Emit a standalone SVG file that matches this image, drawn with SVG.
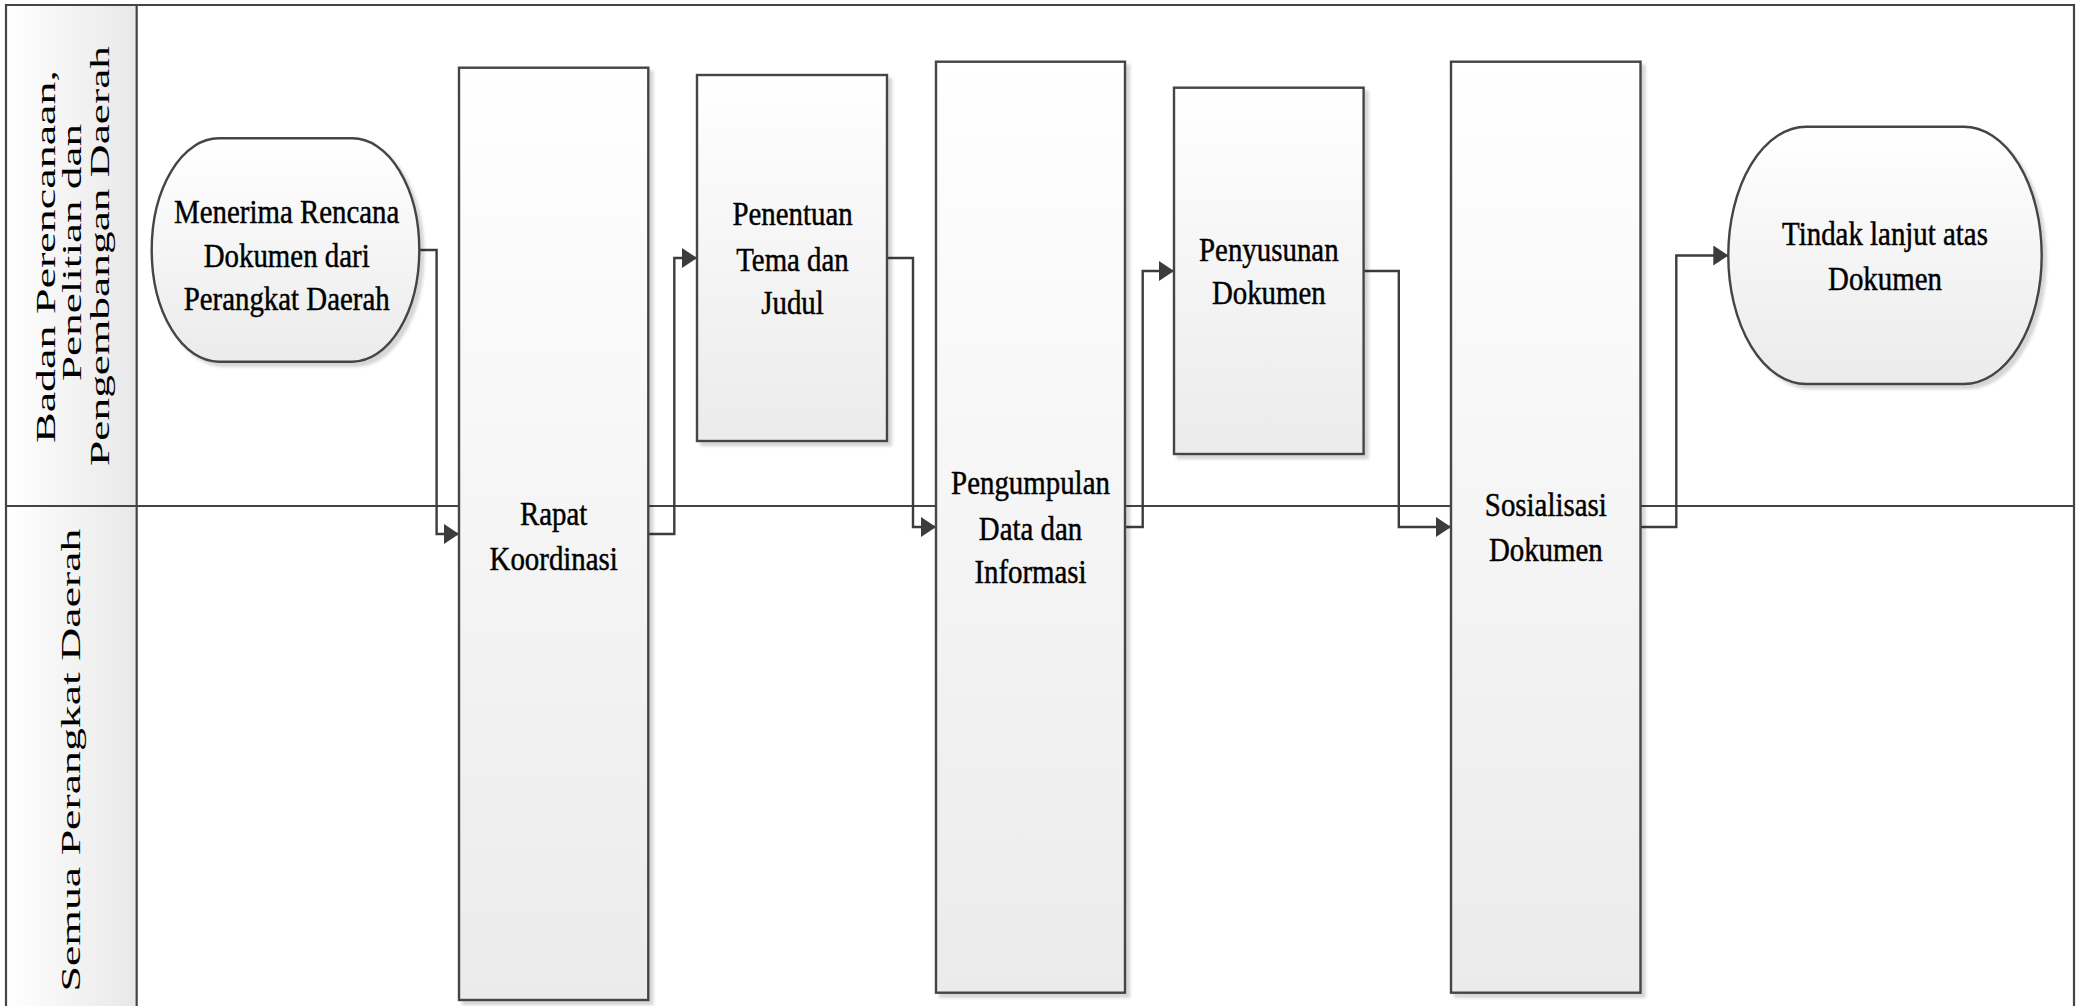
<svg xmlns="http://www.w3.org/2000/svg" width="2082" height="1006" viewBox="0 0 2082 1006">
  <style>
    .lane-line { stroke: #444444; stroke-width: 2.2; fill: none; }
    .conn { stroke: #3c3c3c; stroke-width: 2.4; fill: none; marker-end: url(#arrow); }
    .box { fill: url(#boxGrad); stroke: #444444; stroke-width: 2.4; filter: url(#shadow); }
    .t { font-family: "Liberation Serif", "Times New Roman", serif; font-size: 33px; fill: #000; stroke: #000; stroke-width: 0.45; text-anchor: middle; }
    .lt { font-family: "Liberation Serif", "Times New Roman", serif; font-size: 28px; fill: #000; text-anchor: middle; }
  </style>
  <defs>
    <linearGradient id="boxGrad" x1="0" y1="0" x2="0" y2="1">
      <stop offset="0" stop-color="#ffffff"/>
      <stop offset="1" stop-color="#ebebeb"/>
    </linearGradient>
    <linearGradient id="headGrad" x1="0" y1="0" x2="1" y2="0">
      <stop offset="0" stop-color="#ffffff"/>
      <stop offset="1" stop-color="#e8e8e8"/>
    </linearGradient>
    <filter id="shadow" x="-10%" y="-10%" width="130%" height="130%">
      <feDropShadow dx="4" dy="4" stdDeviation="1.5" flood-color="#000" flood-opacity="0.16"/>
    </filter>
    <marker id="arrow" viewBox="0 0 15 20" refX="15" refY="10" markerWidth="15" markerHeight="20" markerUnits="userSpaceOnUse" orient="auto">
      <path d="M0,0 L15,10 L0,20 Z" fill="#3c3c3c"/>
    </marker>
  </defs>

  <rect width="2082" height="1006" fill="#ffffff"/>

  <g id="lanes">
    <rect x="6" y="5" width="130.7" height="501" fill="url(#headGrad)"/>
    <rect x="6" y="506" width="130.7" height="500" fill="url(#headGrad)"/>
    <line class="lane-line" x1="5" y1="5" x2="2075" y2="5"/>
    <line class="lane-line" x1="6" y1="4" x2="6" y2="1006"/>
    <line class="lane-line" x1="2074" y1="4" x2="2074" y2="1006"/>
    <line class="lane-line" x1="136.7" y1="5" x2="136.7" y2="1006"/>
    <line class="lane-line" x1="6" y1="506" x2="2074" y2="506"/>
    <text class="lt" transform="translate(55 256.5) rotate(-90)" textLength="373" lengthAdjust="spacingAndGlyphs">Badan Perencanaan,</text>
    <text class="lt" transform="translate(81 252.5) rotate(-90)" textLength="257" lengthAdjust="spacingAndGlyphs">Penelitian dan</text>
    <text class="lt" transform="translate(108.5 256) rotate(-90)" textLength="420" lengthAdjust="spacingAndGlyphs">Pengembangan Daerah</text>
    <text class="lt" transform="translate(80 760) rotate(-90)" textLength="463" lengthAdjust="spacingAndGlyphs">Semua Perangkat Daerah</text>
  </g>

  <g id="connectors">
    <path class="conn" d="M419.5 250 H436.6 V534 H459"/>
    <path class="conn" d="M648.3 534 H674.3 V258 H697"/>
    <path class="conn" d="M887 258 H913 V527 H936"/>
    <path class="conn" d="M1125 527 H1142.7 V271 H1174"/>
    <path class="conn" d="M1363.6 271 H1398.8 V527 H1451"/>
    <path class="conn" d="M1640.5 527 H1676.3 V255.5 H1728.3"/>
  </g>

  <g id="node-menerima">
    <rect class="box" x="151.7" y="138.3" width="267.6" height="223.4" rx="67" ry="111.7"/>
    <text class="t" transform="translate(286.7 0) scale(0.875 1)"><tspan x="0" y="223.3">Menerima Rencana</tspan><tspan x="0" y="266.7">Dokumen dari</tspan><tspan x="0" y="310">Perangkat Daerah</tspan></text>
  </g>

  <g id="node-rapat">
    <rect class="box" x="459" y="67.7" width="189.3" height="932.3"/>
    <text class="t" transform="translate(553.7 0) scale(0.875 1)"><tspan x="0" y="525">Rapat</tspan><tspan x="0" y="570">Koordinasi</tspan></text>
  </g>

  <g id="node-penentuan">
    <rect class="box" x="697" y="75" width="190" height="366"/>
    <text class="t" transform="translate(792.5 0) scale(0.875 1)"><tspan x="0" y="225.4">Penentuan</tspan><tspan x="0" y="270.9">Tema dan</tspan><tspan x="0" y="314.4">Judul</tspan></text>
  </g>

  <g id="node-pengumpulan">
    <rect class="box" x="936" y="61.7" width="189" height="931"/>
    <text class="t" transform="translate(1030.5 0) scale(0.875 1)"><tspan x="0" y="494.5">Pengumpulan</tspan><tspan x="0" y="539.7">Data dan</tspan><tspan x="0" y="583.5">Informasi</tspan></text>
  </g>

  <g id="node-penyusunan">
    <rect class="box" x="1174" y="87.7" width="189.6" height="366.3"/>
    <text class="t" transform="translate(1268.8 0) scale(0.875 1)"><tspan x="0" y="261">Penyusunan</tspan><tspan x="0" y="304.5">Dokumen</tspan></text>
  </g>

  <g id="node-sosialisasi">
    <rect class="box" x="1451" y="61.7" width="189.5" height="931"/>
    <text class="t" transform="translate(1545.8 0) scale(0.875 1)"><tspan x="0" y="516">Sosialisasi</tspan><tspan x="0" y="561.5">Dokumen</tspan></text>
  </g>

  <g id="node-tindak">
    <rect class="box" x="1728.3" y="126.7" width="313.4" height="257.3" rx="78" ry="128.6"/>
    <text class="t" transform="translate(1885 0) scale(0.875 1)"><tspan x="0" y="245">Tindak lanjut atas</tspan><tspan x="0" y="290">Dokumen</tspan></text>
  </g>
</svg>
